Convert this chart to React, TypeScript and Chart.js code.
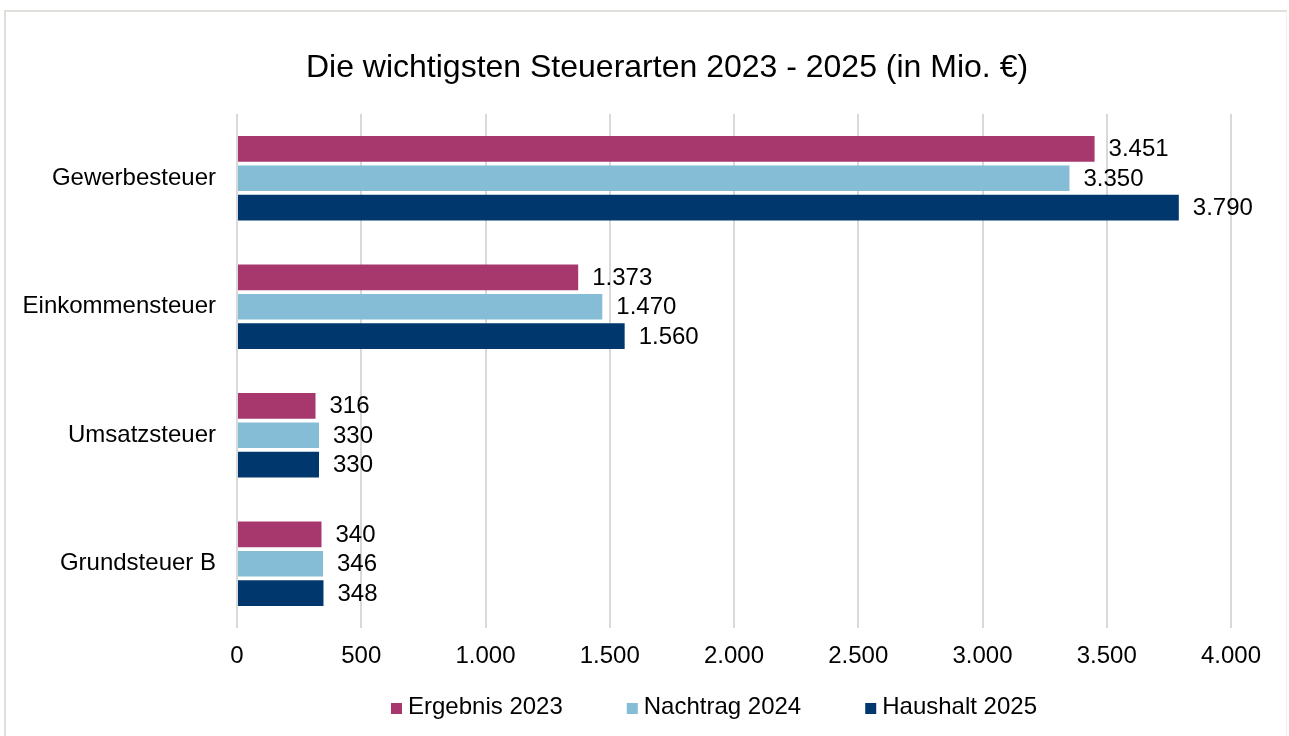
import React, { useEffect, useRef } from "react";
import { Chart, registerables } from "chart.js";

Chart.register(...registerables);

const FONT = '"Liberation Sans", Arial, sans-serif';

const TITLE = "Die wichtigsten Steuerarten 2023 - 2025 (in Mio. €)";
const CATEGORIES = ["Gewerbesteuer", "Einkommensteuer", "Umsatzsteuer", "Grundsteuer B"];
const SERIES_NAMES = ["Ergebnis 2023", "Nachtrag 2024", "Haushalt 2025"];
const ERGEBNIS_2023 = [3451, 1373, 316, 340];
const NACHTRAG_2024 = [3350, 1470, 330, 346];
const HAUSHALT_2025 = [3790, 1560, 330, 348];
const SERIES_VALUES = [ERGEBNIS_2023, NACHTRAG_2024, HAUSHALT_2025];
const COLORS = ["#A7386E", "#85BDD7", "#00386D"];
const X_MIN = 0;
const X_MAX = 4000;
const X_STEP = 500;

const fmt = (v: number) => String(Math.round(v)).replace(/\B(?=(\d{3})+(?!\d))/g, ".");

const overlayPlugin = {
  id: "overlay",
  afterDatasetsDraw(chart: any) {
    const ctx = chart.ctx as CanvasRenderingContext2D;
    ctx.save();
    ctx.fillStyle = "#000";
    // data labels
    ctx.font = `24px ${FONT}`;
    ctx.textAlign = "left";
    ctx.textBaseline = "middle";
    chart.data.datasets.forEach((ds: any, i: number) => {
      const meta = chart.getDatasetMeta(i);
      meta.data.forEach((el: any, j: number) => {
        ctx.fillText(fmt(ds.data[j]), el.x + 14, el.y + 1);
      });
    });
    // title
    ctx.font = `32px ${FONT}`;
    ctx.textAlign = "center";
    ctx.fillText(TITLE, 667, 68);
    // legend
    ctx.font = `24px ${FONT}`;
    ctx.textAlign = "left";
    const box = 11;
    const gapBoxText = 6;
    const gapItems = 64;
    const widths = SERIES_NAMES.map((n) => ctx.measureText(n).width);
    const total =
      widths.reduce((a, b) => a + b, 0) + SERIES_NAMES.length * (box + gapBoxText) + gapItems * (SERIES_NAMES.length - 1);
    let x = 714 - total / 2;
    const yText = 707;
    SERIES_NAMES.forEach((n, i) => {
      ctx.fillStyle = COLORS[i];
      ctx.fillRect(x, 703, box, box);
      x += box + gapBoxText;
      ctx.fillStyle = "#000";
      ctx.fillText(n, x, yText);
      x += widths[i] + gapItems;
    });
    ctx.restore();
  },
};

export default function App() {
  const canvasRef = useRef<HTMLCanvasElement | null>(null);

  useEffect(() => {
    document.body.style.margin = "0";
    const canvas = canvasRef.current;
    if (!canvas) return;
    const chart = new Chart(canvas, {
      type: "bar",
      data: {
        labels: CATEGORIES,
        datasets: SERIES_NAMES.map((name, i) => ({
          label: name,
          data: SERIES_VALUES[i],
          backgroundColor: COLORS[i],
          borderWidth: 0,
          categoryPercentage: 0.686,
          barPercentage: 0.87,
        })),
      },
      options: {
        indexAxis: "y",
        responsive: false,
        animation: false,
        devicePixelRatio: 1,
        layout: { padding: { top: 114, right: 58, bottom: 0, left: 0 } },
        plugins: {
          legend: { display: false },
          title: { display: false },
          tooltip: { enabled: false },
        },
        scales: {
          x: {
            min: X_MIN,
            max: X_MAX,
            ticks: {
              stepSize: X_STEP,
              callback: (v: any) => fmt(Number(v)),
              color: "#000",
              font: { size: 24, family: FONT },
              padding: 14,
              maxRotation: 0,
            },
            grid: { color: "#d9d9d9", lineWidth: 2, drawTicks: false },
            border: { display: false },
            afterFit: (s: any) => {
              s.height = 108;
            },
          },
          y: {
            ticks: {
              color: "#000",
              font: { size: 24, family: FONT },
              padding: 21,
            },
            grid: { display: false, drawTicks: false },
            border: { display: false },
            afterFit: (s: any) => {
              s.width = 237;
            },
          },
        },
      },
      plugins: [overlayPlugin],
    } as any);
    return () => chart.destroy();
  }, []);

  return (
    <div style={{ position: "absolute", left: 0, top: 0, width: 1289, height: 736, overflow: "hidden", background: "#fff" }}>
      <div
        style={{
          position: "absolute",
          left: 4,
          top: 10,
          width: 1283,
          height: 800,
          borderTop: "2px solid #e0e0da",
          borderLeft: "2px solid #e0e0da",
          borderRight: "1px solid #f0f0f0",
          boxSizing: "border-box",
        }}
      />
      <canvas ref={canvasRef} width={1289} height={736} style={{ position: "absolute", left: 0, top: 0 }} />
    </div>
  );
}
